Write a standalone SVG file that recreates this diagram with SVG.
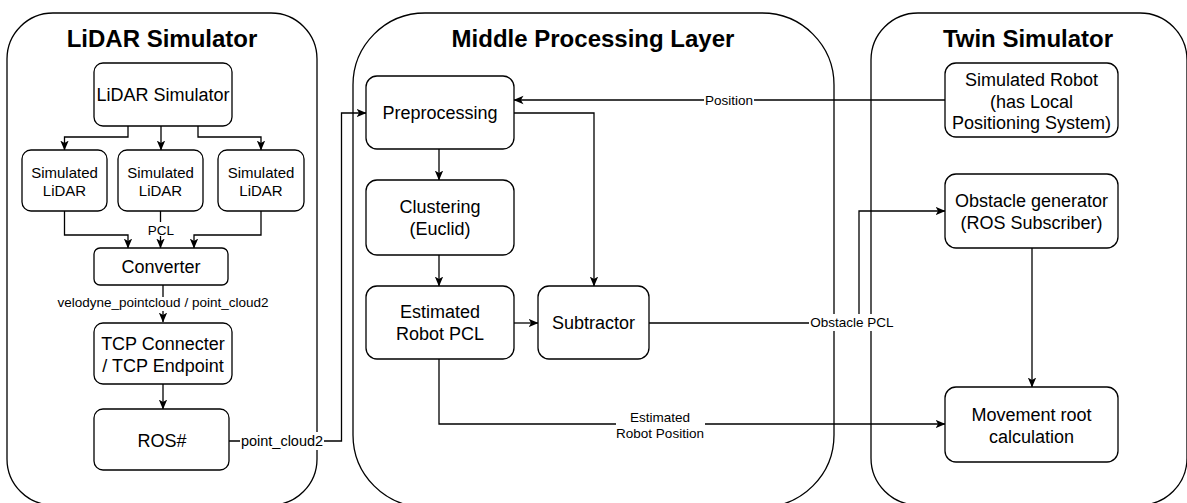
<svg xmlns="http://www.w3.org/2000/svg" width="1187" height="503" viewBox="0 0 1187 503">
  <defs>
    <marker id="arrow" viewBox="0 0 10 10" refX="9.5" refY="5" markerWidth="10" markerHeight="10" markerUnits="userSpaceOnUse" orient="auto">
      <path d="M0,0.8 L10,5 L0,9.2 L2.6,5 Z" fill="#000"/>
    </marker>
  </defs>
  <style>
    .frame { fill: #fff; stroke: #000; stroke-width: 1.3; }
    .box { fill: #fff; stroke: #000; stroke-width: 1.3; }
    .edge { fill: none; stroke: #000; stroke-width: 1.3; }
    .arr { marker-end: url(#arrow); }
    .title { font-family: "Liberation Sans", Arial, sans-serif; font-size: 24px; font-weight: bold; text-anchor: middle; fill: #000; }
    .t18 { font-family: "Liberation Sans", Arial, sans-serif; font-size: 18px; text-anchor: middle; fill: #000; }
    .t15 { font-family: "Liberation Sans", Arial, sans-serif; font-size: 15px; text-anchor: middle; fill: #000; }
    .lbl { font-family: "Liberation Sans", Arial, sans-serif; font-size: 13.5px; text-anchor: middle; fill: #000; }
    .lbl14 { font-family: "Liberation Sans", Arial, sans-serif; font-size: 14.5px; text-anchor: middle; fill: #000; }
    .bg { fill: #fff; stroke: none; }
  </style>

  <!-- swimlane containers -->
  <g id="lane-lidar">
    <rect class="frame" x="7" y="13" width="310" height="492" rx="46"/>
    <text class="title" x="162" y="47">LiDAR Simulator</text>
  </g>
  <g id="lane-middle">
    <rect class="frame" x="353" y="13" width="481" height="494" rx="72"/>
    <text class="title" x="593" y="47">Middle Processing Layer</text>
  </g>
  <g id="lane-twin">
    <rect class="frame" x="871" y="13" width="316" height="492" rx="47"/>
    <text class="title" x="1028" y="47">Twin Simulator</text>
  </g>

  <!-- connectors -->
  <g id="connectors">
    <path class="edge arr" d="M128,126 V137 H64.5 V150"/>
    <path class="edge arr" d="M161,126 V150"/>
    <path class="edge arr" d="M198,126 V137 H261 V150"/>
    <path class="edge arr" d="M64.5,211 V235 H128 V248"/>
    <path class="edge arr" d="M160.5,211 V248"/>
    <path class="edge arr" d="M261,211 V235 H194 V248"/>
    <path class="edge arr" d="M163,285 V322"/>
    <path class="edge arr" d="M163,384 V409"/>
    <path class="edge arr" d="M229,441 H341.5 V113 H366"/>
    <path class="edge arr" d="M945,100 H514"/>
    <path class="edge arr" d="M439,149 V180"/>
    <path class="edge arr" d="M439,255 V286"/>
    <path class="edge arr" d="M514,113 H594 V286"/>
    <path class="edge arr" d="M514,323 H538"/>
    <path class="edge arr" d="M649,323 H859 V211 H945"/>
    <path class="edge arr" d="M439,359 V424 H945"/>
    <path class="edge arr" d="M1032,248 V387"/>

    <!-- edge labels -->
    <rect class="bg" x="147" y="222" width="28" height="14"/>
    <text class="lbl" x="161" y="235">PCL</text>
    <rect class="bg" x="56" y="297" width="214" height="14"/>
    <text class="lbl" x="163" y="307">velodyne_pointcloud / point_cloud2</text>
    <rect class="bg" x="240" y="432" width="84" height="18"/>
    <text class="lbl14" x="282" y="446">point_cloud2</text>
    <rect class="bg" x="704" y="93" width="50" height="15"/>
    <text class="lbl" x="729" y="105">Position</text>
    <rect class="bg" x="809" y="314" width="86" height="17"/>
    <text class="lbl" x="852" y="327">Obstacle PCL</text>
    <rect class="bg" x="616" y="409" width="89" height="32"/>
    <text class="lbl" x="660" y="422">Estimated</text>
    <text class="lbl" x="660" y="438">Robot Position</text>
  </g>

  <!-- LiDAR simulator side -->
  <g id="lidar-simulator">
    <rect class="box" x="94" y="63" width="138" height="63" rx="9"/>
    <text class="t18" x="163" y="101">LiDAR Simulator</text>
  </g>
  <g id="simulated-lidar-1">
    <rect class="box" x="22" y="150" width="85" height="61" rx="9"/>
    <text class="t15" x="64.5" y="178">Simulated</text>
    <text class="t15" x="64.5" y="196">LiDAR</text>
  </g>
  <g id="simulated-lidar-2">
    <rect class="box" x="118" y="150" width="85" height="61" rx="9"/>
    <text class="t15" x="160.5" y="178">Simulated</text>
    <text class="t15" x="160.5" y="196">LiDAR</text>
  </g>
  <g id="simulated-lidar-3">
    <rect class="box" x="218" y="150" width="86" height="61" rx="9"/>
    <text class="t15" x="261" y="178">Simulated</text>
    <text class="t15" x="261" y="196">LiDAR</text>
  </g>
  <g id="converter">
    <rect class="box" x="94" y="248" width="134" height="37" rx="6"/>
    <text class="t18" x="161" y="273">Converter</text>
  </g>
  <g id="tcp">
    <rect class="box" x="94" y="323" width="138" height="61" rx="9"/>
    <text class="t18" x="163" y="350">TCP Connecter</text>
    <text class="t18" x="163" y="372">/ TCP Endpoint</text>
  </g>
  <g id="ros-sharp">
    <rect class="box" x="94" y="409" width="135" height="61" rx="9"/>
    <text class="t18" x="162" y="447">ROS#</text>
  </g>

  <!-- middle processing -->
  <g id="preprocessing">
    <rect class="box" x="366" y="76" width="148" height="73" rx="11"/>
    <text class="t18" x="440" y="119">Preprocessing</text>
  </g>
  <g id="clustering">
    <rect class="box" x="366" y="180" width="148" height="75" rx="11"/>
    <text class="t18" x="440" y="213">Clustering</text>
    <text class="t18" x="440" y="235">(Euclid)</text>
  </g>
  <g id="estimated-robot-pcl">
    <rect class="box" x="366" y="286" width="148" height="73" rx="11"/>
    <text class="t18" x="440" y="318">Estimated</text>
    <text class="t18" x="440" y="340">Robot PCL</text>
  </g>
  <g id="subtractor">
    <rect class="box" x="538" y="286" width="111" height="73" rx="11"/>
    <text class="t18" x="593.5" y="329">Subtractor</text>
  </g>

  <!-- twin simulator -->
  <g id="simulated-robot">
    <rect class="box" x="945" y="63" width="173" height="74" rx="11"/>
    <text class="t18" x="1031.5" y="86">Simulated Robot</text>
    <text class="t18" x="1031.5" y="108">(has Local</text>
    <text class="t18" x="1031.5" y="129">Positioning System)</text>
  </g>
  <g id="obstacle-generator">
    <rect class="box" x="945" y="174" width="173" height="74" rx="11"/>
    <text class="t18" x="1031.5" y="207">Obstacle generator</text>
    <text class="t18" x="1031.5" y="229">(ROS Subscriber)</text>
  </g>
  <g id="movement-root">
    <rect class="box" x="945" y="387" width="173" height="75" rx="11"/>
    <text class="t18" x="1031.5" y="421">Movement root</text>
    <text class="t18" x="1031.5" y="443">calculation</text>
  </g>
</svg>
